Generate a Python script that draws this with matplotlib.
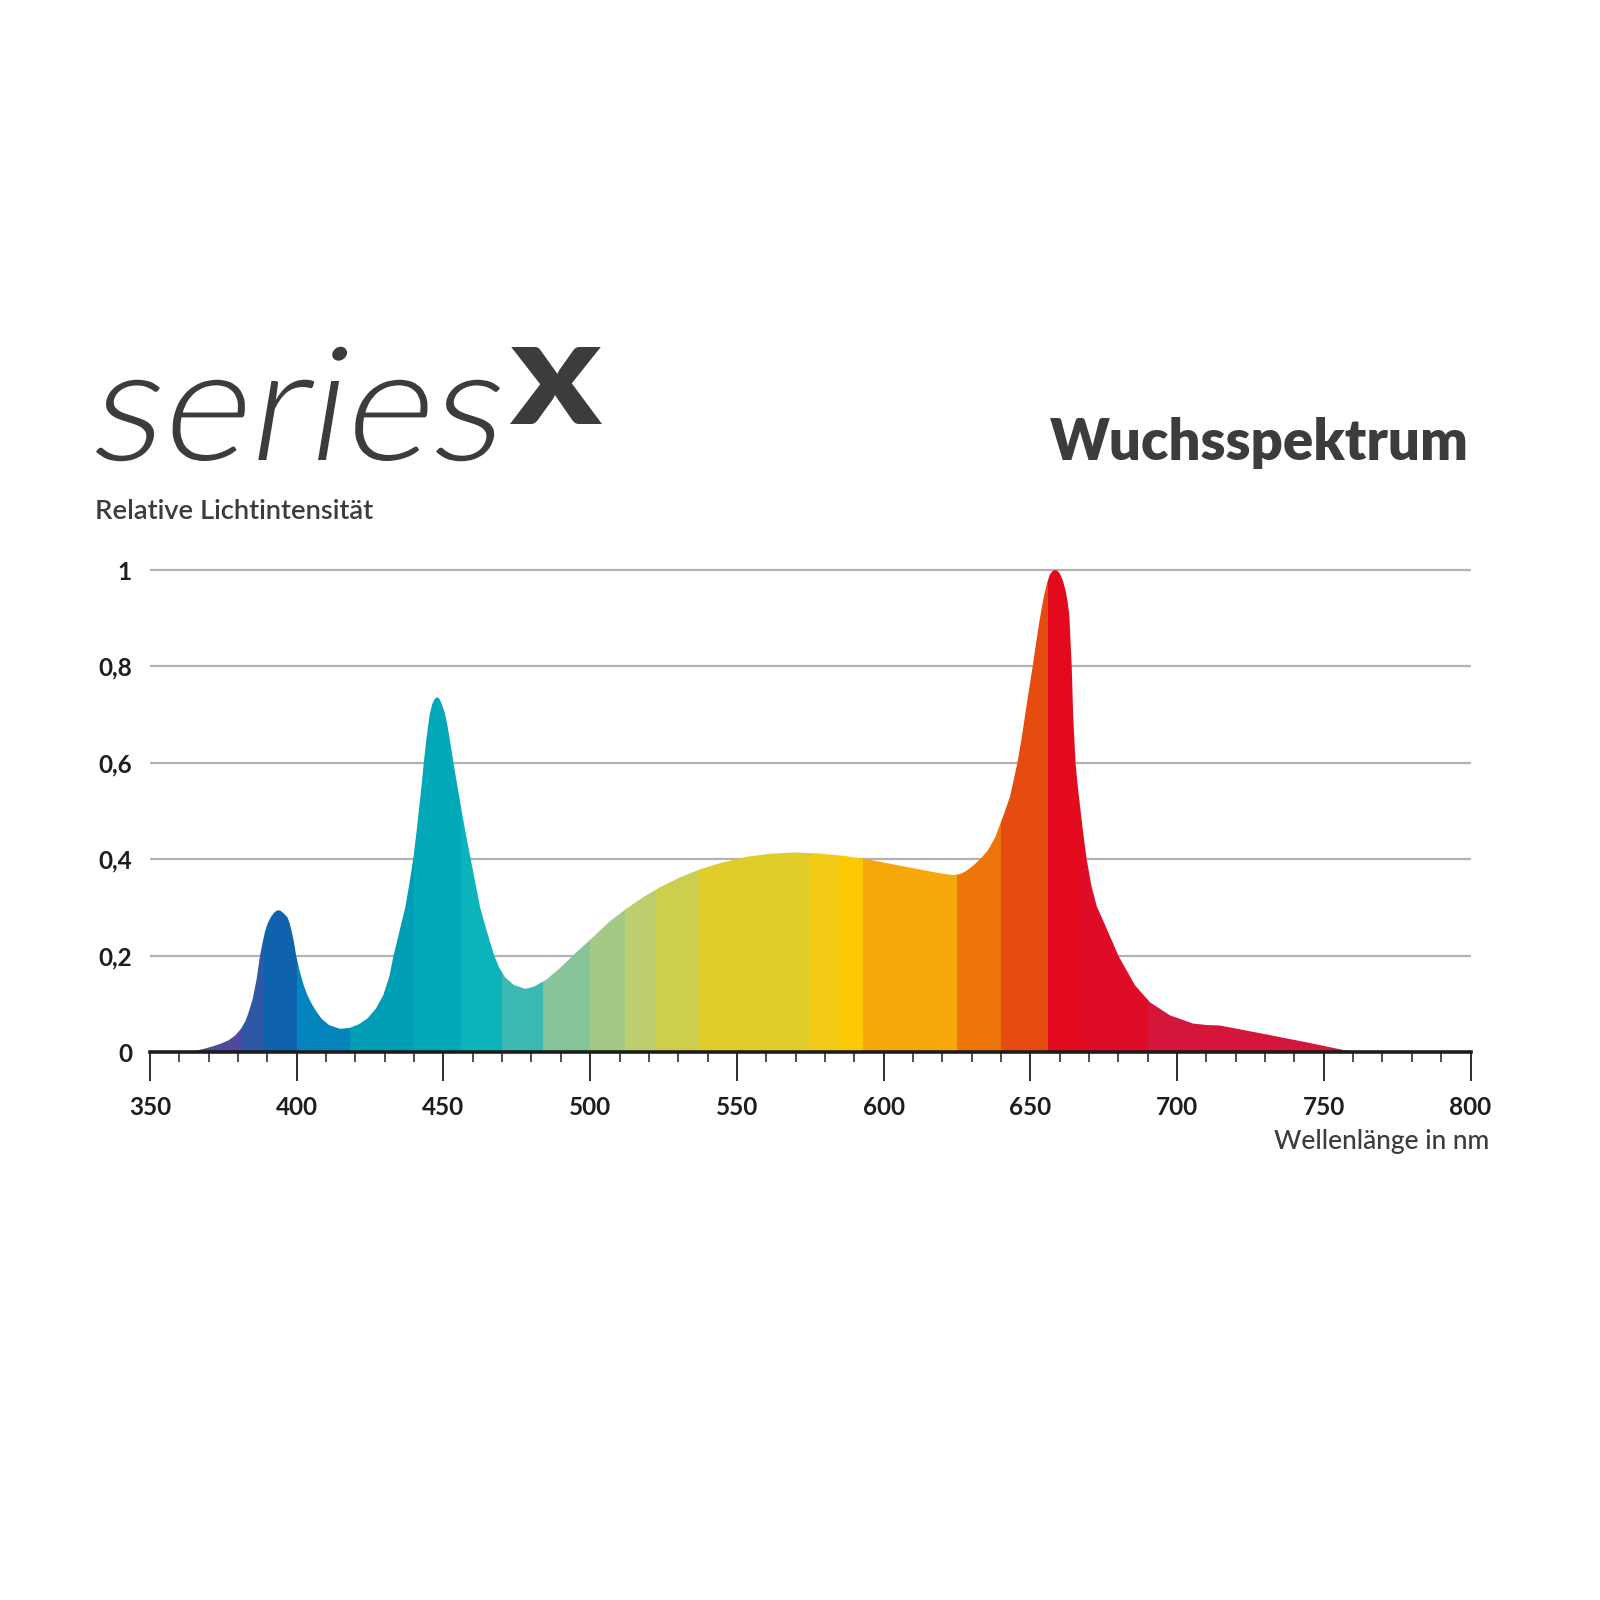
import matplotlib
matplotlib.use("Agg")
import matplotlib.pyplot as plt
from matplotlib.font_manager import FontProperties
from matplotlib.patches import PathPatch
from matplotlib.textpath import TextPath
from matplotlib.transforms import Affine2D
import numpy as np

# Wuchsspektrum: Wellenlänge (nm) / relative Intensität
wavelength = [350, 360, 365, 368, 371, 374, 376.7, 379, 381, 382.5, 383.5, 385, 386.3, 387.5,
              388.4, 389.2, 390.2, 391.2, 392.3, 393.1, 393.8, 394.5, 395.3, 396.8, 397.6,
              398.3, 399.1, 399.8, 401, 402.3, 403.7, 405.1, 406.8, 408.5, 411, 414.8, 418,
              421, 424, 427, 429.5, 431.5, 433, 435, 437, 438.4, 439.7, 440.7, 441.6, 442.5,
              443.3, 444.2, 445.3, 446.2, 447, 447.8, 448.6, 449.3, 450, 450.6, 451.4, 452.1,
              452.8, 453.4, 454.8, 456.2, 457.7, 459.3, 460.9, 462.5, 464.8, 467.3, 469,
              471, 474, 477.9, 481, 485, 489.7, 495, 501.1, 506.5, 512.5, 518, 523.8, 530.5,
              537.4, 545, 553.3, 561, 569.2, 578, 586.3, 592, 597.6, 606, 614.7, 620, 623.8,
              626, 628.3, 630.6, 632.9, 635.5, 638, 640.8, 643.1, 645.6, 647, 648.2, 649.5,
              650.8, 652, 653, 654, 654.7, 655.7, 656.7, 657.6, 658.4, 659.3, 660.1, 661.1,
              662, 662.7, 663.3, 664.1, 664.6, 665.4, 666.1, 666.9, 668, 669.2, 670.8, 672.6,
              676, 680, 685.7, 690.8, 697.6, 705.5, 710, 714.6, 730, 745, 760, 800]
intensity = [0, 0, 0.002, 0.006, 0.011, 0.017, 0.024, 0.034, 0.048, 0.064, 0.08, 0.11, 0.15,
             0.2, 0.228, 0.25, 0.268, 0.28, 0.289, 0.293, 0.294, 0.293, 0.289, 0.28, 0.267,
             0.25, 0.226, 0.2, 0.168, 0.14, 0.117, 0.1, 0.083, 0.069, 0.056, 0.048, 0.05,
             0.057, 0.069, 0.09, 0.118, 0.155, 0.2, 0.25, 0.3, 0.35, 0.4, 0.45, 0.5, 0.55,
             0.6, 0.65, 0.7, 0.722, 0.732, 0.736, 0.733, 0.724, 0.712, 0.7, 0.676, 0.65,
             0.624, 0.6, 0.55, 0.5, 0.45, 0.4, 0.35, 0.3, 0.25, 0.2, 0.175, 0.155, 0.139,
             0.131, 0.136, 0.15, 0.174, 0.205, 0.239, 0.27, 0.298, 0.321, 0.342, 0.362, 0.379,
             0.393, 0.405, 0.411, 0.414, 0.412, 0.407, 0.402, 0.396, 0.386, 0.376, 0.37,
             0.367, 0.369, 0.376, 0.387, 0.4, 0.418, 0.445, 0.49, 0.53, 0.6, 0.65, 0.698,
             0.75, 0.8, 0.85, 0.89, 0.925, 0.947, 0.973, 0.991, 0.998, 1.0, 0.998, 0.992,
             0.978, 0.958, 0.935, 0.905, 0.8, 0.698, 0.6, 0.555, 0.512, 0.455, 0.4, 0.345,
             0.303, 0.256, 0.2, 0.138, 0.103, 0.076, 0.059, 0.056, 0.055, 0.037, 0.019, 0, 0]

# Farbbänder entlang der Wellenlänge
band_edges = [350, 381, 389, 400, 418, 440, 456, 470, 484, 500, 512, 522, 537, 575, 585,
              593, 625, 640, 656, 668, 690, 800]
band_colors = ["#4D4A9C", "#2E58A6", "#0F62AC", "#0484BC", "#009EB5", "#00A8B8", "#0BB4BA",
               "#3DB9B4", "#86C49A", "#A4C986", "#BDCF6C", "#CCCF4E", "#E0CD2A", "#F3CB16",
               "#FDC902", "#F5A807", "#EE7508", "#E64B10", "#E30A1D", "#DE0C27", "#D3163A"]

y_ticks = [0, 0.2, 0.4, 0.6, 0.8, 1.0]
y_labels = ["0", "0,2", "0,4", "0,6", "0,8", "1"]
x_major = list(range(350, 801, 50))
x_minor = list(range(350, 801, 10))

TEXT = "#3C3C3B"
INK = "#1D1D1B"
plt.rcParams["font.family"] = ["Lato", "DejaVu Sans"]

fig = plt.figure(figsize=(16, 16), dpi=100)
W = H = 1600.0
ymax = 1.08
unit = (1052 - 570) / H
ax = fig.add_axes([150 / W, 1 - 1052 / H, (1470.5 - 150) / W, unit * ymax])
ax.set_xlim(350, 800)
ax.set_ylim(0, ymax)

for v in y_ticks[1:]:
    ax.axhline(v, color="#B2B2B2", lw=1.6, zorder=0)

area = ax.fill_between(wavelength, intensity, 0, facecolor="none", edgecolor="none", zorder=1)
clip = area.get_paths()[0]
for lo, hi, c in zip(band_edges[:-1], band_edges[1:], band_colors):
    span = ax.axvspan(lo, hi, color=c, lw=0, zorder=2)
    span.set_clip_path(clip, ax.transData)

for s in ["top", "right", "left"]:
    ax.spines[s].set_visible(False)
ax.spines["bottom"].set_linewidth(2.6)
ax.spines["bottom"].set_color(INK)
ax.spines["bottom"].set_zorder(5)

ax.set_xticks(x_major)
ax.set_xticks(x_minor, minor=True)
ax.tick_params(axis="x", which="major", length=21, width=1.3, color=INK, pad=11,
               labelsize=17.5, labelcolor=INK)
ax.tick_params(axis="x", which="minor", length=7.5, width=1.1, color=INK)
for lab in ax.get_xticklabels():
    lab.set_fontweight("bold")

ax.set_yticks(y_ticks)
ax.set_yticklabels(y_labels, fontweight="bold")
ax.tick_params(axis="y", length=0, pad=13, labelsize=17.5, labelcolor=INK)

# Logo "series x" als Textpfad, in eine Pixelbox eingepasst
logo = fig.add_axes([0, 0, 1, 1], zorder=-1)
logo.set_xlim(0, W)
logo.set_ylim(H, 0)
logo.axis("off")


def fit_text(s, prop, x0, x1, top, base, slant=0.0, ref="x"):
    shear = Affine2D().skew_deg(slant, 0)
    tp = shear.transform_path(TextPath((0, 0), s, size=100, prop=prop))
    ex = tp.get_extents()
    xh = TextPath((0, 0), ref, size=100, prop=prop).get_extents().height
    sx = (x1 - x0) / ex.width
    sy = (base - top) / xh
    tr = Affine2D().translate(-ex.x0, 0).scale(sx, -sy).translate(x0, base)
    logo.add_patch(PathPatch(tr.transform_path(tp), facecolor=TEXT, edgecolor="none"))


fit_text("series", FontProperties(family="Lato", weight=300), 96, 500, 381, 460, slant=9)
fit_text("x", FontProperties(family="Lato", weight=900), 510, 602, 347, 424)

fig.text(1469 / W, 1 - 460 / H, "Wuchsspektrum", fontsize=40.5, fontweight=800,
         color=TEXT, ha="right", va="baseline")
fig.text(95 / W, 1 - 519 / H, "Relative Lichtintensität", fontsize=19.7, fontweight="semibold",
         color=TEXT, ha="left", va="baseline")
fig.text(1489 / W, 1 - 1149 / H, "Wellenlänge in nm", fontsize=19, fontweight="medium",
         color=TEXT, ha="right", va="baseline")

fig.savefig("out.png", dpi=100, facecolor="white")
